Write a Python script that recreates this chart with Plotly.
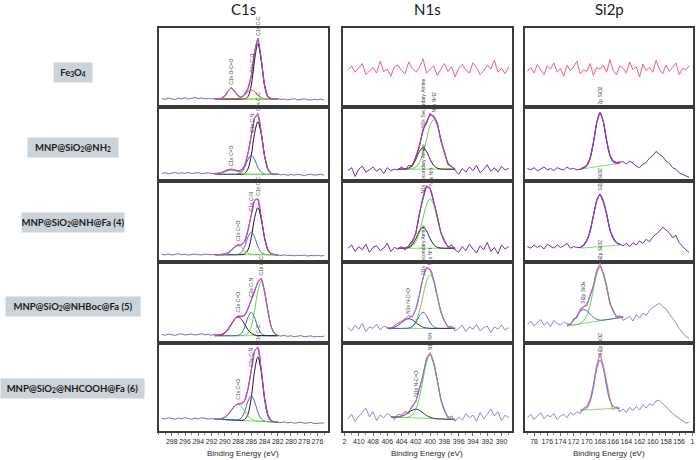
import plotly.graph_objects as go

W, H = 697, 460

# ---------------- sampling grids (binding energy, eV) ----------------
C_E = [299.5 - 0.5 * i for i in range(50)]
N_E = [411.5 - 0.5 * i for i in range(46)]
S_E = [179.0 - 0.5 * i for i in range(50)]

regions = ["C1s", "N1s", "Si2p"]
samples = ["Fe<sub>3</sub>O<sub>4</sub>",
           "MNP@SiO<sub>2</sub>@NH<sub>2</sub>",
           "MNP@SiO<sub>2</sub>@NH@Fa (4)",
           "MNP@SiO<sub>2</sub>@NHBoc@Fa (5)",
           "MNP@SiO<sub>2</sub>@NHCOOH@Fa (6)"]

c1s_ticks = [298, 296, 294, 292, 290, 288, 286, 284, 282, 280, 278, 276]
c1s_ticktext = ["298", "296", "294", "292", "290", "288", "286", "284", "282", "280", "278", "276"]
n1s_ticks = [412, 410, 408, 406, 404, 402, 400, 398, 396, 394, 392, 390]
n1s_ticktext = ["2", "410", "408", "406", "404", "402", "400", "398", "396", "394", "392", "390"]
si2p_ticks = [178, 176, 174, 172, 170, 168, 166, 164, 162, 160, 158, 156, 154]
si2p_ticktext = ["78", "176", "174", "172", "170", "168", "166", "164", "162", "160", "158", "156", "1"]

# ---------------- C1s ----------------
c1s_fe_data = [10.5, 9.8, 11.2, 10.1, 9.5, 11.0, 10.3, 11.8, 10.0, 10.9, 12.0, 10.6, 11.4, 10.2, 11.0, 10.4,
               10.8, 10.0, 11.2, 14.5, 20.5, 24.5, 19.0, 14.8, 12.0, 16.5, 23.5, 39.0, 70.0, 87.0, 60.5, 28.5, 12.5, 10.8, 9.6, 10.4,
               9.5, 10.2, 9.0, 9.8, 10.5, 8.9, 9.6, 10.3, 9.2, 8.7, 9.9, 9.1, 10.0, 8.8]
c1s_fe_fit_start = 291.5
c1s_fe_bg = [10, 10, 10, 10, 10, 10, 10, 10, 10, 10, 10, 10, 10, 10, 10, 10, 10, 10, 10, 10]
c1s_fe_cc = [10, 10, 10, 10, 10, 10, 10, 10, 10, 10.3, 13.1, 27.4, 59.5, 80, 59.5, 27.4, 13.1, 10.3, 10, 10]
c1s_fe_co = [10, 10, 10, 10, 10, 10, 10.1, 10.5, 12.0, 15.3, 19.5, 21.5, 19.5, 15.3, 12.0, 10.5, 10.1, 10, 10, 10]
c1s_fe_oco = [10, 10.1, 10.6, 13.5, 19.9, 24, 19.9, 13.5, 10.6, 10.1, 10, 10, 10, 10, 10, 10, 10, 10, 10, 10]

c1s_nh2_data = [10.5, 11.2, 9.8, 10.9, 11.5, 10.2, 11.0, 10.4, 11.6, 10.1, 10.8, 11.3, 9.9, 10.6, 11.1, 10.0,
                9.8, 10.5, 11.5, 13.5, 15.5, 16.0, 15.0, 14.0, 14.5, 21.0, 37.5, 61.5, 85.0, 91.0, 66.0, 34.0, 16.0, 10.5, 8.6, 9.5,
                8.2, 9.0, 7.6, 8.8, 7.9, 9.2, 8.1, 7.4, 8.6, 9.3, 7.8, 8.5, 9.0, 8.0]
c1s_nh2_fit_start = 291.5
c1s_nh2_bg = [9, 9, 9, 9, 9, 9, 9, 9, 9, 9, 9, 9, 9, 9, 9, 9, 9, 9, 9, 9]
c1s_nh2_cc = [9, 9, 9, 9, 9, 9, 9, 9, 9.1, 10.2, 16.2, 34.6, 64.0, 80, 64.0, 34.6, 16.2, 10.2, 9.1, 9]
c1s_nh2_cn = [9, 9, 9, 9, 9, 9, 9, 9.4, 11.6, 18.4, 29.2, 35, 29.2, 18.4, 11.6, 9.4, 9.1, 9, 9, 9]
c1s_nh2_co = [9.3, 9.8, 10.9, 12.6, 14.3, 15, 14.3, 12.6, 10.9, 9.8, 9.3, 9.1, 9, 9, 9, 9, 9, 9, 9, 9]

c1s_fa4_data = [9.5, 8.8, 9.9, 8.6, 9.4, 10.2, 8.9, 9.7, 8.5, 9.6, 10.0, 9.1, 8.7, 9.8, 9.2, 8.9,
                9.4, 8.8, 9.6, 10.0, 11.5, 14.5, 19.0, 21.5, 21.5, 25.5, 39.0, 58.0, 76.5, 78.0, 56.0, 30.0, 15.5, 10.5, 9.2, 8.6,
                8.0, 8.8, 7.9, 8.5, 7.6, 8.3, 7.8, 8.6, 7.4, 8.1, 7.7, 8.4, 7.5, 8.0]
c1s_fa4_fit_start = 291.5
c1s_fa4_bg = [9, 9, 9, 9, 9, 9, 9, 9, 9, 9, 9, 9, 9, 9, 9, 9, 9, 9, 9, 9]
c1s_fa4_cc = [9, 9, 9, 9, 9, 9, 9, 9, 9.1, 10.0, 14.9, 29.9, 54.0, 67, 54.0, 29.9, 14.9, 10.0, 9.1, 9]
c1s_fa4_cn = [9, 9, 9, 9, 9, 9, 9.1, 9.5, 11.8, 19.1, 30.7, 37, 30.7, 19.1, 11.8, 9.5, 9.1, 9, 9, 9]
c1s_fa4_co = [9, 9, 9.1, 9.5, 10.9, 14.0, 18.1, 20, 18.1, 14.0, 10.9, 9.5, 9.1, 9, 9, 9, 9, 9, 9, 9]

c1s_fa5_data = [10.5, 9.6, 11.0, 10.2, 9.4, 10.8, 11.3, 9.9, 10.5, 11.1, 9.8, 10.6, 11.4, 10.0, 10.7, 9.5,
                10.8, 9.9, 10.6, 12.8, 17.0, 23.5, 30.0, 33.5, 33.0, 34.5, 42.5, 53.0, 64.0, 75.5, 80.0, 63.5, 40.5, 20.0, 12.0, 9.3,
                8.6, 9.4, 8.2, 8.9, 7.8, 8.5, 9.1, 7.7, 8.3, 8.8, 7.5, 8.2, 7.9, 8.4]
c1s_fa5_fit_start = 291.5
c1s_fa5_bg = [9, 9, 9, 9, 9, 9, 9, 9, 9, 9, 9, 9, 9, 9, 9, 9, 9, 9, 9, 9]
c1s_fa5_cc = [9, 9, 9, 9, 9, 9, 9, 9, 9.1, 9.5, 11.9, 20.5, 39.7, 64.1, 76, 64.1, 39.7, 20.5, 11.9, 9.5]
c1s_fa5_cn = [9, 9, 9, 9, 9, 9, 9.1, 9.5, 11.9, 19.4, 31.5, 38, 31.5, 19.4, 11.9, 9.5, 9.1, 9, 9, 9]
c1s_fa5_co = [9.1, 9.3, 10.0, 12.1, 16.5, 23.0, 29.3, 32, 29.3, 23.0, 16.5, 12.1, 10.0, 9.3, 9.1, 9, 9, 9, 9, 9]

c1s_fa6_data = [14.5, 13.6, 15.0, 14.2, 13.4, 14.8, 13.9, 15.2, 14.0, 13.3, 14.6, 13.8, 15.1, 14.3, 13.5, 14.0,
                13.8, 13.2, 14.0, 15.8, 19.0, 23.8, 28.5, 31.0, 31.5, 34.5, 47.5, 69.0, 91.0, 95.5, 71.0, 38.0, 18.5, 12.0, 10.5, 10.0,
                9.6, 10.4, 9.2, 9.9, 8.8, 9.5, 10.1, 8.7, 9.3, 9.8, 8.5, 9.1, 8.9, 9.4]
c1s_fa6_fit_start = 291.5
c1s_fa6_bg = [13.5, 13.3, 13.1, 13.0, 12.8, 12.6, 12.4, 12.2, 12.0, 11.8, 11.7, 11.5, 11.3, 11.1, 10.9, 10.7, 10.6, 10.4, 10.2, 10.0]
c1s_fa6_cc = [13.5, 13.3, 13.1, 13.0, 12.8, 12.6, 12.4, 12.2, 12.1, 13.0, 19.1, 37.8, 67.9, 84.1, 67.5, 37.0, 18.0, 11.6, 10.3, 10.0]
c1s_fa6_cn = [13.5, 13.3, 13.1, 13.0, 12.8, 12.6, 12.5, 12.7, 14.9, 22.1, 33.8, 40.0, 33.4, 21.4, 13.8, 11.2, 10.7, 10.4, 10.2, 10.0]
c1s_fa6_co = [13.5, 13.5, 13.9, 15.4, 18.7, 23.5, 28.3, 30.2, 27.9, 22.7, 17.6, 13.9, 12.1, 11.3, 10.9, 10.7, 10.6, 10.4, 10.2, 10.0]

# ---------------- N1s ----------------
n1s_fe_data = [47, 52, 44, 49, 55, 41, 46, 50, 43, 58, 45, 48, 39, 51, 53, 46, 42, 57, 49, 44,
               50, 61, 43, 47, 52, 40, 48, 55, 45, 51, 38, 49, 54, 47, 43, 56, 50, 41, 46, 53,
               48, 59, 44, 49, 42, 51]

n1s_nh2_data = [14, 18, 6, 16, 20, 12, 15, 19, 13, 17, 10, 18, 14, 16,
                15, 19, 15, 21, 20, 34, 46, 70, 78, 91, 86, 79, 54, 40, 22, 20, 14,
                9, 17, 12, 19, 14, 21, 11, 16, 22, 13, 18, 12, 20, 15, 17]
n1s_nh2_fit_start = 404.5
n1s_nh2_bg = [16, 16, 16, 16, 16, 16, 16, 16, 16, 16, 16, 16, 16, 16, 16, 16, 16]
n1s_nh2_nh = [16, 16, 16, 16.1, 16.7, 18.9, 25.0, 37.8, 56.7, 75.1, 83, 75.1, 56.7, 37.8, 25.0, 18.9, 16.7]
n1s_nh2_sec = [16, 16, 16.2, 17.3, 21.0, 29.3, 39.9, 45, 39.9, 29.3, 21.0, 17.3, 16.2, 16, 16, 16, 16]

n1s_fa4_data = [17, 21, 13, 19, 15, 22, 12, 18, 20, 14, 17, 23, 13, 18,
                16, 19, 15, 21, 26, 35, 60, 78, 94, 91, 74, 57, 36, 27, 18, 21, 15,
                12, 19, 14, 22, 16, 11, 20, 15, 24, 13, 18, 10, 21, 16, 19]
n1s_fa4_fit_start = 404.5
n1s_fa4_bg = [17, 17, 17, 17, 17, 17, 17, 17, 17, 17, 17, 17, 17, 17, 17, 17, 17]
n1s_fa4_nh = [17, 17, 17.1, 17.7, 19.7, 25.2, 36.8, 54.0, 70.8, 78, 70.8, 54.0, 36.8, 25.2, 19.7, 17.7, 17.1]
n1s_fa4_sec = [17, 17, 17.2, 18.1, 21.5, 28.9, 38.4, 43, 38.4, 28.9, 21.5, 18.1, 17.2, 17, 17, 17, 17]

n1s_fa5_data = [19, 15, 22, 17, 24, 14, 20, 18, 23, 16, 21,
                19, 17, 22, 24, 27, 30, 34, 32, 42, 60, 80, 93, 90, 77, 59, 38, 28, 19, 21, 15,
                18, 22, 14, 20, 17, 23, 15, 19, 21, 13, 20, 17, 22, 16, 19]
n1s_fa5_fit_start = 406.0
n1s_fa5_bg = [18, 18, 18, 18, 18, 18, 18, 18, 18, 18, 18, 18, 18, 18, 18, 18, 18, 18, 18, 18]
n1s_fa5_nh = [18, 18, 18, 18, 18, 18.1, 18.7, 20.9, 26.9, 39.5, 58.1, 76.2, 84, 76.2, 58.1, 39.5, 26.9, 20.9, 18.7, 18.1]
n1s_fa5_sec = [18, 18, 18, 18, 18, 18, 18.3, 20.0, 25.2, 33.5, 38, 33.5, 25.2, 20.0, 18.3, 18, 18, 18, 18, 18]
n1s_fa5_boc = [18.1, 18.5, 19.6, 21.9, 25.3, 28.6, 30, 28.6, 25.3, 21.9, 19.6, 18.5, 18.1, 18, 18, 18, 18, 18, 18, 18]

n1s_fa6_data = [14, 19, 11, 17, 21, 26, 16, 22, 12, 18, 15, 20,
                17, 13, 19, 18, 22, 20, 29, 33, 49, 62, 83, 89, 76, 58, 35, 25, 14, 17, 11,
                16, 12, 20, 15, 18, 11, 21, 14, 19, 25, 17, 22, 12, 18, 15]
n1s_fa6_fit_start = 405.5
n1s_fa6_bg = [16.0, 15.8, 15.7, 15.5, 15.3, 15.2, 15.0, 14.8, 14.7, 14.5, 14.3, 14.2, 14.0, 13.8, 13.7, 13.5, 13.3, 13.2, 13.0]
n1s_fa6_nh = [16.0, 15.8, 15.7, 15.5, 15.4, 16.0, 18.2, 24.5, 38.1, 58.2, 77.8, 86.2, 77.5, 57.5, 37.1, 23.2, 16.5, 14.0, 13.1]
n1s_fa6_cooh = [16.0, 15.9, 16.1, 16.9, 18.6, 21.3, 23.8, 24.8, 23.5, 20.6, 17.6, 15.6, 14.4, 13.9, 13.7, 13.5, 13.3, 13.2, 13.0]

# ---------------- Si2p ----------------
si2p_fe_data = [45, 50, 43, 54, 47, 41, 52, 48, 56, 44, 49, 39, 53, 46, 51, 58, 42, 47, 45, 55,
                40, 50, 48, 53, 44, 60, 46, 41, 52, 49, 43, 57, 47, 51, 38, 54, 46, 50, 44, 59,
                48, 42, 53, 45, 50, 56, 41, 49, 47, 52]

si2p_nh2_data = [17, 15, 18, 14, 16, 19, 15, 17, 14, 18, 16, 15, 19, 16, 17, 15,
                 16, 18, 21, 31, 52, 79, 93, 81, 55, 35, 27, 25, 26,
                 26, 23, 27, 24, 20, 18, 23, 25, 31, 34, 40, 36, 33, 27, 24, 18, 16, 11, 9, 6, 5]
si2p_nh2_fit_start = 171.0
si2p_nh2_bg = [16.0, 16.7, 17.3, 18.0, 18.7, 19.3, 20.0, 20.7, 21.3, 22.0, 22.7, 23.3, 24.0]
si2p_nh2_sio2 = [16.0, 17.3, 20.5, 30.4, 51.7, 78.6, 92, 80.0, 54.3, 34.4, 25.9, 23.9, 24.0]

si2p_fa4_data = [19, 17, 21, 18, 20, 16, 22, 19, 17, 21, 18, 20, 23, 17, 19, 18,
                 18, 21, 27, 37, 58, 77, 84, 74, 60, 39, 30, 24, 22,
                 20, 23, 19, 24, 21, 26, 23, 28, 25, 31, 34, 38, 43, 40, 36, 30, 33, 24, 19, 15, 12]
si2p_fa4_fit_start = 171.0
si2p_fa4_bg = [17.0, 17.3, 17.7, 18.0, 18.3, 18.7, 19.0, 19.3, 19.7, 20.0, 20.3, 20.7, 21.0]
si2p_fa4_sio2 = [17.7, 20.1, 26.3, 38.8, 57.1, 75.1, 83, 75.7, 58.5, 40.8, 28.9, 23.5, 21.7]

si2p_fa5_data = [23, 27, 21, 25, 29, 22, 26, 20, 28, 24, 22, 26,
                 24, 22, 30, 31, 42, 45, 46, 60, 70, 90, 98, 84, 71, 48, 41, 31, 34, 28,
                 30, 33, 27, 35, 31, 37, 34, 40, 44, 46, 49, 45, 42, 36, 31, 25, 18, 13, 8, 6]
si2p_fa5_fit_start = 173.0
si2p_fa5_bg = [21.0, 21.6, 22.3, 22.9, 23.6, 24.2, 24.9, 25.5, 26.2, 26.8, 27.5, 28.1, 28.8, 29.4, 30.1, 30.7, 31.4, 32.0]
si2p_fa5_sio2 = [21.0, 21.6, 22.3, 23.0, 24.3, 27.1, 33.8, 47.0, 66.3, 85.0, 93.5, 86.3, 68.9, 50.9, 39.0, 33.6, 32.1, 32.1]
si2p_fa5_siox = [21.7, 23.9, 27.8, 33.2, 38.6, 41.2, 39.9, 35.8, 31.7, 29.1, 28.2, 28.3, 28.8, 29.4, 30.1, 30.7, 31.4, 32.0]

si2p_fa6_data = [15, 19, 13, 17, 21, 14, 18, 16, 20, 13, 17, 19, 15, 21, 18, 22,
                 20, 26, 28, 36, 52, 75, 88, 74, 55, 36, 24, 28, 22,
                 25, 21, 27, 23, 28, 24, 30, 26, 31, 29, 34, 35, 31, 28, 24, 20, 17, 14, 11, 9, 10]
si2p_fa6_fit_start = 171.0
si2p_fa6_bg = [23.6, 23.8, 24.0, 24.2, 24.4, 24.6, 24.8, 25.0, 25.2, 25.4, 25.6, 25.8, 26.0]
si2p_fa6_sio2 = [23.7, 24.2, 26.5, 33.8, 50.0, 70.7, 80.8, 71.1, 50.8, 35.0, 28.1, 26.2, 26.0]

# ---------------- styles ----------------
BLACK, BLUE, RED, GREEN = "#1c1c1c", "#4d5fd6", "#e8364e", "#5fdc34"
BGLINE = "#86e060"
TONES = {
    "c":  dict(data="#7f62d8", pink="#f2578a", env="#b248e2"),
    "d":  dict(data="#6a2cc2", pink="#f23a62", env="#8a3ad6"),
    "l":  dict(data="#8e84e6", pink="#f47c9c", env="#9668e2"),
    "p":  dict(data="#f2607e"),
}

panels = [
    dict(r=0, c=0, E=C_E, data=c1s_fe_data, start=c1s_fe_fit_start, bg=c1s_fe_bg, tone="c",
         comps=[(c1s_fe_cc, BLACK, "C1s C-C"), (c1s_fe_co, RED, "C1s C-O"), (c1s_fe_oco, GREEN, "C1s O-C=O")]),
    dict(r=1, c=0, E=C_E, data=c1s_nh2_data, start=c1s_nh2_fit_start, bg=c1s_nh2_bg, tone="c",
         comps=[(c1s_nh2_cc, BLACK, "C1s C-C"), (c1s_nh2_cn, BLUE, "C1s C-N"), (c1s_nh2_co, GREEN, "C1s C=O")]),
    dict(r=2, c=0, E=C_E, data=c1s_fa4_data, start=c1s_fa4_fit_start, bg=c1s_fa4_bg, tone="c",
         comps=[(c1s_fa4_cc, BLACK, "C1s C-C"), (c1s_fa4_cn, BLUE, "C1s C-N"), (c1s_fa4_co, GREEN, "C1s C=O")]),
    dict(r=3, c=0, E=C_E, data=c1s_fa5_data, start=c1s_fa5_fit_start, bg=c1s_fa5_bg, tone="c",
         comps=[(c1s_fa5_cc, GREEN, "C1s C-C"), (c1s_fa5_cn, BLUE, "C1s C-N"), (c1s_fa5_co, BLACK, "C1s C=O")]),
    dict(r=4, c=0, E=C_E, data=c1s_fa6_data, start=c1s_fa6_fit_start, bg=c1s_fa6_bg, tone="c",
         comps=[(c1s_fa6_cc, BLACK, "C1s C-C"), (c1s_fa6_cn, BLUE, "C1s C-N"), (c1s_fa6_co, GREEN, "C1s C=O")]),
    dict(r=0, c=1, E=N_E, data=n1s_fe_data, tone="p", comps=[]),
    dict(r=1, c=1, E=N_E, data=n1s_nh2_data, start=n1s_nh2_fit_start, bg=n1s_nh2_bg, tone="d",
         comps=[(n1s_nh2_nh, GREEN, "N1s NH2"), (n1s_nh2_sec, BLACK, "N1s Secondary Amine")]),
    dict(r=2, c=1, E=N_E, data=n1s_fa4_data, start=n1s_fa4_fit_start, bg=n1s_fa4_bg, tone="d",
         comps=[(n1s_fa4_nh, GREEN, "N1s NH"), (n1s_fa4_sec, BLACK, "N1s Secondary Amine")]),
    dict(r=3, c=1, E=N_E, data=n1s_fa5_data, start=n1s_fa5_fit_start, bg=n1s_fa5_bg, tone="l",
         comps=[(n1s_fa5_nh, GREEN, "N1s NH"), (n1s_fa5_sec, BLUE, "N1s Secondary Amine"), (n1s_fa5_boc, "#3a3a5a", "N1s N-C=O")]),
    dict(r=4, c=1, E=N_E, data=n1s_fa6_data, start=n1s_fa6_fit_start, bg=n1s_fa6_bg, tone="l",
         comps=[(n1s_fa6_nh, GREEN, "N1s NH"), (n1s_fa6_cooh, "#3a3a5a", "N1s N-C=O")]),
    dict(r=0, c=2, E=S_E, data=si2p_fe_data, tone="p", comps=[]),
    dict(r=1, c=2, E=S_E, data=si2p_nh2_data, start=si2p_nh2_fit_start, bg=si2p_nh2_bg, tone="d",
         comps=[(si2p_nh2_sio2, BLUE, "Si2p SiO2")]),
    dict(r=2, c=2, E=S_E, data=si2p_fa4_data, start=si2p_fa4_fit_start, bg=si2p_fa4_bg, tone="d",
         comps=[(si2p_fa4_sio2, BLUE, "Si2p SiO2")]),
    dict(r=3, c=2, E=S_E, data=si2p_fa5_data, start=si2p_fa5_fit_start, bg=si2p_fa5_bg, tone="l",
         comps=[(si2p_fa5_sio2, GREEN, "Si2p SiO2"), (si2p_fa5_siox, BLUE, "Si2p SiOx")]),
    dict(r=4, c=2, E=S_E, data=si2p_fa6_data, start=si2p_fa6_fit_start, bg=si2p_fa6_bg, tone="l",
         comps=[(si2p_fa6_sio2, GREEN, "Si2p SiO2")]),
]

# ---------------- layout geometry (pixels) ----------------
col_px = [(158, 328), (343, 512), (526, 694)]
row_px = [(28, 107), (107, 181), (181, 262), (262, 343), (343, 431)]
xranges = [[300.0, 274.4], [412.2, 388.6], [179.3, 153.9]]
tickinfo = [(c1s_ticks, c1s_ticktext), (n1s_ticks, n1s_ticktext), (si2p_ticks, si2p_ticktext)]
BORDER = "#3a3a3a"

fig = go.Figure()
layout = {}
annotations = []

for r in range(5):
    for c in range(3):
        n = r * 3 + c + 1
        xa = dict(domain=[col_px[c][0] / W, col_px[c][1] / W], range=xranges[c], anchor="y%d" % n,
                  showline=True, mirror=True, linecolor=BORDER, linewidth=1.5,
                  showgrid=False, zeroline=False, fixedrange=True)
        if r == 4:
            xa.update(tickmode="array", tickvals=tickinfo[c][0], ticktext=tickinfo[c][1], tickangle=0,
                      ticks="outside", ticklen=3, tickwidth=1, tickcolor="#6a6a8a",
                      minor=dict(ticks="outside", ticklen=2, dtick=1, tick0=0, tickcolor="#8a8aa8"),
                      tickfont=dict(family="Liberation Sans, Arial", size=7, color="#2a2a2a"))
        else:
            xa.update(showticklabels=False, ticks="")
        ya = dict(domain=[1 - row_px[r][1] / H, 1 - row_px[r][0] / H], range=[0, 100], anchor="x%d" % n,
                  showline=True, mirror=True, linecolor=BORDER, linewidth=1.5,
                  showgrid=False, zeroline=False, showticklabels=False, ticks="", fixedrange=True)
        layout["xaxis" if n == 1 else "xaxis%d" % n] = xa
        layout["yaxis" if n == 1 else "yaxis%d" % n] = ya


def axes_of(p):
    n = p["r"] * 3 + p["c"] + 1
    return ("x" if n == 1 else "x%d" % n), ("y" if n == 1 else "y%d" % n)


for p in panels:
    xr, yr = axes_of(p)
    tone = TONES[p["tone"]]
    if not p["comps"]:
        fig.add_trace(go.Scatter(x=p["E"], y=p["data"], mode="lines", xaxis=xr, yaxis=yr,
                                 line=dict(color=tone["data"], width=1), hoverinfo="skip", showlegend=False))
        continue
    bg = p["bg"]
    fitE = [p["start"] - 0.5 * k for k in range(len(bg))]
    env = [bg[k] + sum(comp[k] - bg[k] for comp, _, _ in p["comps"]) for k in range(len(bg))]
    # raw data (full range)
    fig.add_trace(go.Scatter(x=p["E"], y=p["data"], mode="lines", xaxis=xr, yaxis=yr,
                             line=dict(color=tone["data"], width=1), hoverinfo="skip", showlegend=False))
    # raw data in fitted region (pink)
    lo, hi = min(fitE), max(fitE)
    seg = [(e, v) for e, v in zip(p["E"], p["data"]) if lo <= e <= hi]
    fig.add_trace(go.Scatter(x=[s[0] for s in seg], y=[s[1] for s in seg], mode="lines", xaxis=xr, yaxis=yr,
                             line=dict(color=tone["pink"], width=1), hoverinfo="skip", showlegend=False))
    # background
    fig.add_trace(go.Scatter(x=fitE, y=bg, mode="lines", xaxis=xr, yaxis=yr,
                             line=dict(color=BGLINE, width=1), hoverinfo="skip", showlegend=False))
    # components
    for comp, col, lab in p["comps"]:
        fig.add_trace(go.Scatter(x=fitE, y=comp, mode="lines", xaxis=xr, yaxis=yr, line_shape="spline",
                                 line=dict(color=col, width=1), hoverinfo="skip", showlegend=False))
    # envelope
    fig.add_trace(go.Scatter(x=fitE, y=env, mode="lines", xaxis=xr, yaxis=yr, line_shape="spline",
                             line=dict(color=tone["env"], width=1), hoverinfo="skip", showlegend=False))
    # component labels
    for comp, col, lab in p["comps"]:
        k = max(range(len(comp)), key=lambda i: comp[i] - bg[i])
        annotations.append(dict(x=fitE[k], y=env[k] + 2, xref=xr, yref=yr, text=lab, showarrow=False,
                                textangle=-90, xanchor="center", yanchor="bottom",
                                font=dict(family="Liberation Sans, Arial", size=5, color="#444444")))

# column titles and axis titles
for c in range(3):
    cx = (col_px[c][0] + col_px[c][1]) / 2 / W
    annotations.append(dict(x=cx, y=1 - 9 / H, xref="paper", yref="paper", text=regions[c], showarrow=False,
                            xanchor="center", yanchor="middle",
                            font=dict(family="Lato, Open Sans", size=15, color="#1a1a1a")))
    annotations.append(dict(x=cx, y=1 - 453 / H, xref="paper", yref="paper", text="Binding Energy (eV)",
                            showarrow=False, xanchor="center", yanchor="middle",
                            font=dict(family="Liberation Sans, Arial", size=8, color="#2a2a2a")))

# sample labels (grey boxes)
label_cy = [72, 148, 222, 306, 388]
label_w = [38, 90, 102, 134, 143]
for r in range(5):
    annotations.append(dict(x=72 / W, y=1 - label_cy[r] / H, xref="paper", yref="paper",
                            text="<b>%s</b>" % samples[r], showarrow=False, xanchor="center", yanchor="middle",
                            width=label_w[r], height=19, bgcolor="#cad3da", borderpad=0,
                            font=dict(family="Lato, Open Sans", size=9.5, color="#1a1a1a")))

layout.update(width=W, height=H, margin=dict(l=0, r=0, t=0, b=0), paper_bgcolor="white",
              plot_bgcolor="white", showlegend=False, annotations=annotations)
fig.update_layout(**layout)
fig.write_html("out.html", config={"displayModeBar": False},
               post_script="document.body.style.margin='0';document.body.style.overflow='hidden';")
